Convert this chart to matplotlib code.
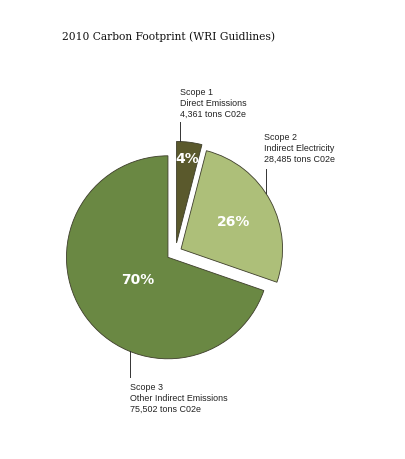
import numpy as np
import matplotlib.pyplot as plt

# data
scopes = ["Scope 1", "Scope 2", "Scope 3"]
descriptions = ["Direct Emissions", "Indirect Electricity", "Other Indirect Emissions"]
tons = [4361, 28485, 75502]
colors = ["#5a592c", "#adbf79", "#6a8843"]

W, H = 406, 460
R = 101.5            # pie radius in pixels
CX, CY = 175.4, 253  # pie centre in pixels (from top-left)


def to_data(x, y):
    return (x - CX) / R, (CY - y) / R


fig = plt.figure(figsize=(W / 100, H / 100), dpi=100)
ax = fig.add_axes([0, 0, 1, 1])

wedges, texts, autotexts = ax.pie(
    tons, colors=colors, startangle=90, counterclock=False,
    explode=[0.09, 0.063, 0.09], autopct="%.0f%%",
    wedgeprops=dict(edgecolor="#3d3d2a", linewidth=0.6),
    textprops=dict(color="white", fontsize=10, fontweight="bold"),
)
ax.set_aspect("auto")
ax.set_xlim(-CX / R, (W - CX) / R)
ax.set_ylim(-(H - CY) / R, CY / R)
ax.axis("off")

# percentage label distance from each wedge's apex
pct_dist = [0.845, 0.59, 0.37]
for w, t, d in zip(wedges, autotexts, pct_dist):
    mid = np.deg2rad((w.theta1 + w.theta2) / 2)
    cx, cy = w.center
    t.set_position((cx + d * np.cos(mid), cy + d * np.sin(mid)))

# callout labels: (text left x, text top y, line x, line end y) in pixels
callouts = [(180, 88, 180, 123), (264, 133, 266, 170), (130, 383, 130, 378)]
for i, (w, (tx, ty, lx, ly)) in enumerate(zip(wedges, callouts)):
    label = f"{scopes[i]}\n{descriptions[i]}\n{tons[i]:,} tons C02e"
    x0, y0 = to_data(tx, ty)
    ax.text(x0, y0, label, ha="left", va="top", fontsize=6.4,
            family=["Liberation Sans Narrow", "Liberation Sans"],
            color="#222222", linespacing=1.25)
    lxd, lyd = to_data(lx, ly)
    cx, cy = w.center
    dy = np.sqrt(max(w.r ** 2 - (lxd - cx) ** 2, 0))
    edge_y = cy + dy if lyd > cy else cy - dy
    ax.plot([lxd, lxd], [edge_y, lyd], color="#333333", lw=0.7)

tx, ty = to_data(62, 37)
ax.text(tx, ty, "2010 Carbon Footprint (WRI Guidlines)", ha="left", va="center",
        fontsize=7.7, family="DejaVu Serif", color="#111111")

fig.savefig("out.png", dpi=100)
